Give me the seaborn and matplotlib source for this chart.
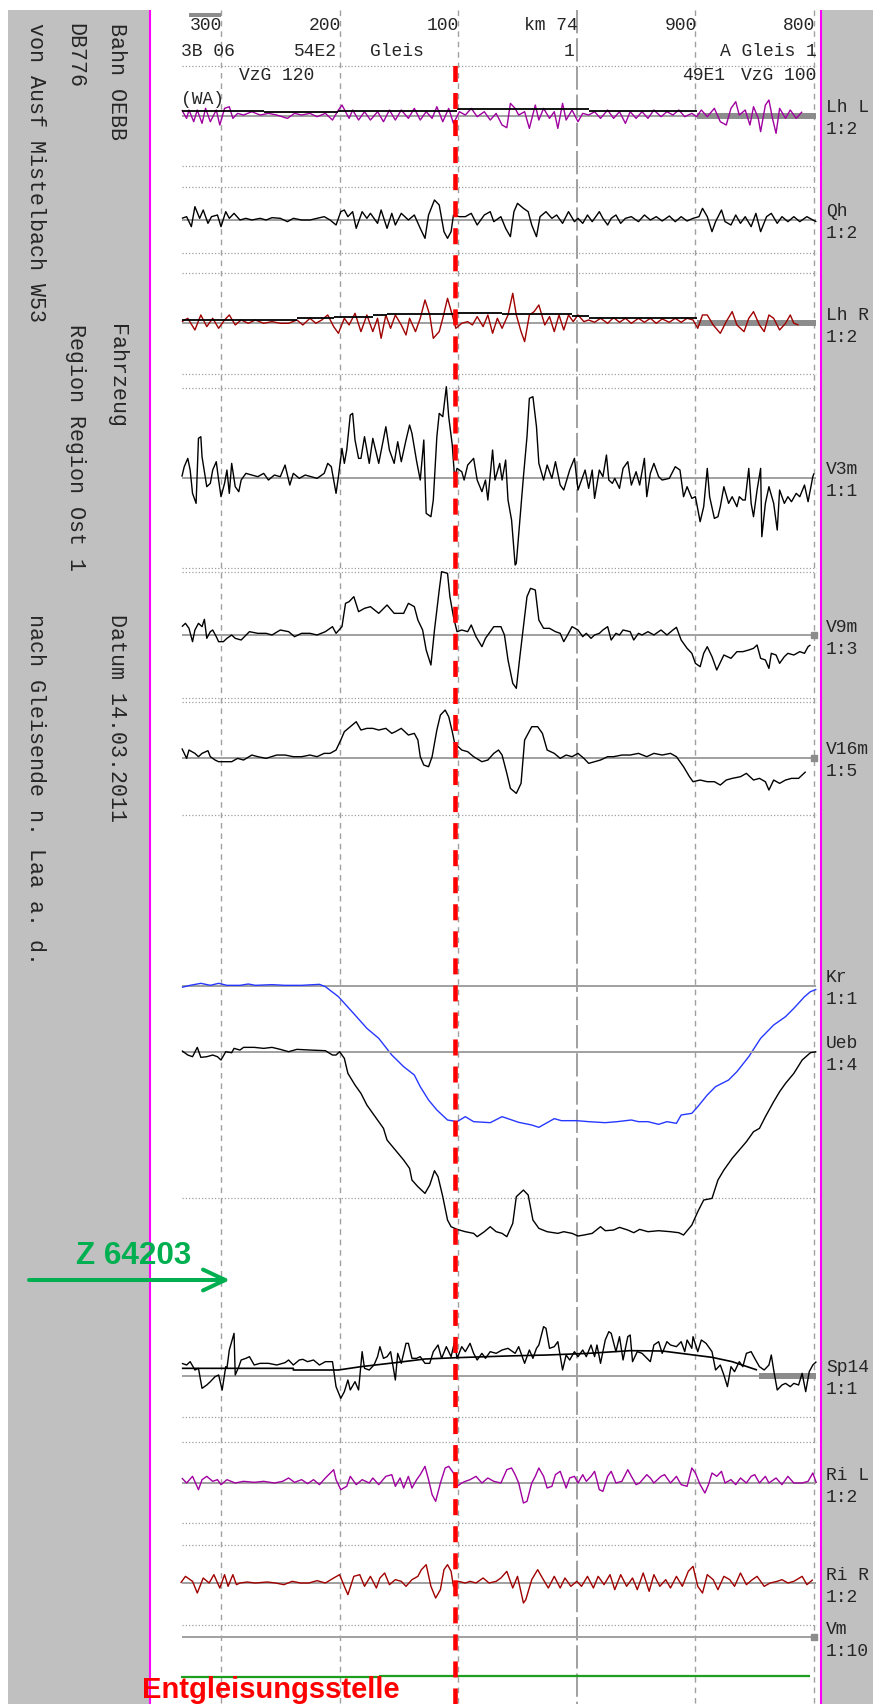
import matplotlib
matplotlib.use("Agg")
import matplotlib.pyplot as plt
import seaborn as sns
from matplotlib.patches import Rectangle, FancyArrowPatch
from matplotlib.lines import Line2D

sns.set_style("white")
plt.rcParams['font.family'] = ['Liberation Mono', 'DejaVu Sans Mono']
plt.rcParams['lines.solid_capstyle'] = 'butt'

# ---------------- data (x = metres from km 74.300, decreasing chainage to the right) -------------
km_ticks = [0, 100, 200, 300, 400, 500]
km_labels = ["300", "200", "100", "km 74", "900", "800"]
derail_pos = 197.3

lhl_x = [-33,-29,-27,-23,-20,-16,-13,-9,-4,-1,
         3,7,10,14,19,26,33,40,47,56,
         62,68,75,81,88,94,99,102,108,111,
         116,121,126,132,137,142,147,152,158,163,
         168,173,178,182,187,192,196,201,206,211,
         216,222,227,232,237,241,244,248,251,256,
         260,265,268,272,277,281,284,288,291,296,
         301,305,310,315,320,326,331,336,341,345,
         350,355,360,365,371,376,381,386,391,397,
         401,405,410,416,421,426,430,434,437,442,
         446,449,453,455,459,462,465,468,471,476,
         480,485,490]
lhl_y = [17,-8,17,-18,17,-23,22,-18,17,-28,
         22,27,-8,7,2,12,2,7,2,-8,
         7,2,7,-3,7,-13,17,32,-8,17,
         -13,12,-13,12,-18,17,-13,17,-8,22,
         -13,12,-8,27,-18,22,-23,12,2,22,
         -3,12,-13,7,-28,-36,37,22,2,12,
         -38,32,-13,22,-8,12,-38,37,-13,17,
         -18,7,2,12,-8,17,-8,12,-23,12,
         -8,12,-8,17,-3,12,2,17,-3,7,
         -3,17,-3,22,-18,-28,22,42,2,17,
         -28,27,-8,-48,32,47,-8,-53,22,-8,
         17,-8,12]
lhl_mean_start = [-33, 36, 99, 199, 310]
lhl_mean_end = [36, 99, 199, 310, 401]
lhl_mean_val = [15, 10, 15, 19, 15]

qh_x = [-33,-29,-25,-22,-18,-15,-11,-8,-3,0,
        4,7,11,16,21,26,33,38,43,50,
        56,61,68,75,81,87,92,97,101,104,
        107,111,114,119,123,126,132,135,140,144,
        147,152,158,163,168,172,175,180,184,188,
        191,194,196,201,206,211,216,222,227,230,
        236,240,244,247,250,255,259,262,266,269,
        274,279,283,288,293,298,301,305,309,313,
        319,322,326,329,333,337,341,346,352,357,
        362,367,372,378,383,388,393,398,403,406,
        410,414,417,422,425,430,434,438,442,447,
        451,455,460,464,469,473,478,483,488,494,
        499,502]
qh_y = [5,10,-20,40,5,30,-10,10,15,-20,
        25,5,20,0,5,0,5,0,7,5,
        -5,5,0,0,5,10,0,-15,25,30,
        10,25,-25,25,5,20,-10,30,-25,20,
        -15,20,0,15,-25,-55,15,60,45,-35,
        -55,-35,15,10,10,20,-15,15,25,-5,
        10,-25,-50,25,50,35,25,-15,-50,10,
        25,5,15,-10,25,-5,5,-10,15,-5,
        25,5,-15,5,15,-10,5,10,-5,15,
        0,10,-3,12,-5,10,-3,5,10,35,
        10,-35,-5,30,-5,-15,15,-10,10,-20,
        20,-35,10,20,-10,10,-5,10,-5,10,
        0,-5]

lhr_x = [-33,-28,-22,-17,-12,-7,-2,3,7,12,
         17,23,29,36,43,50,57,64,69,75,
         80,85,90,95,99,104,108,113,118,123,
         128,132,135,139,143,147,152,156,159,164,
         168,172,176,179,184,187,191,195,198,203,
         208,212,216,221,225,229,233,237,242,246,
         249,253,256,260,264,268,273,277,281,285,
         289,293,297,301,306,310,315,320,326,331,
         336,341,346,352,357,362,367,372,378,383,
         388,393,398,402,406,410,415,421,426,431,
         435,441,445,449,454,458,462,466,471,476,
         480,483,487]
lhr_y = [5,15,-20,25,-10,15,-15,10,25,-5,
         10,0,10,0,5,0,0,10,-5,15,
         0,10,25,-10,-30,15,-5,30,-25,25,
         -25,15,-45,25,-15,25,-5,-35,15,-25,
         15,70,25,-45,-25,15,75,25,-15,0,
         5,-5,20,-10,25,-30,15,-15,25,90,
         25,-25,-55,25,35,55,-5,20,-25,25,
         -20,25,5,25,5,10,3,15,0,17,
         3,15,0,15,3,15,0,13,3,15,
         3,15,10,-15,25,25,-5,-30,5,35,
         -5,-25,15,35,-5,-25,25,15,-20,0,
         25,0,-5]
lhr_mean_start = [-33, 64, 95, 128, 140, 199, 237, 296, 310]
lhr_mean_end = [64, 95, 128, 140, 199, 237, 296, 310, 401]
lhr_mean_val = [10, 15, 20, 25, 27, 32, 27, 23, 17]

v3_x = [-33,-31,-28,-26,-24,-21,-19,-17,-16,-12,
        -9,-7,-4,-2,0,3,5,7,9,12,
        15,17,21,26,31,36,40,45,50,54,
        58,61,66,71,76,81,87,90,93,97,
        99,102,104,106,109,111,113,116,118,121,
        125,128,133,139,142,146,149,152,156,159,
        161,165,168,171,173,177,179,182,184,187,
        190,192,195,197,199,203,205,208,213,216,
        220,223,225,229,231,235,237,240,242,245,
        248,249,252,255,258,260,263,266,268,272,
        275,279,282,286,289,294,298,301,305,307,
        310,313,315,319,322,325,327,330,332,336,
        339,343,346,350,353,357,359,362,365,369,
        372,378,383,387,390,393,397,400,404,407,
        410,412,416,419,421,424,428,431,435,437,
        440,442,445,447,449,452,455,456,459,462,
        466,469,471,475,478,481,485,488,492,495,
        499,500]
v3_y = [3,33,58,23,-47,-77,118,123,63,-27,
        -17,23,48,-7,-57,-17,23,-47,43,-27,
        -42,-7,13,8,3,13,-7,8,3,38,
        -22,13,-2,8,3,-2,13,43,33,-47,
        3,88,43,83,188,193,113,58,58,123,
        43,118,43,153,83,43,108,48,113,158,
        133,48,-7,113,-107,-117,-67,123,193,183,
        273,183,98,-2,28,18,-7,38,58,-7,
        -42,-7,-67,83,-7,43,-7,53,-67,-127,
        -262,-257,-127,3,123,238,243,153,43,-7,
        38,-2,48,-22,-37,23,58,-37,3,23,
        -32,23,-62,23,3,68,-7,-17,-2,-32,
        28,48,-22,18,-22,58,-57,13,43,3,
        -7,-2,33,23,-57,-27,-62,-57,-132,-87,
        28,-57,-122,-117,-87,-27,-77,-57,-87,-57,
        -67,-67,28,-77,-117,-37,28,-177,-77,-27,
        -77,-157,-37,-77,-57,-72,-47,-57,-22,-72,
        3,13]

v9_x = [-33,-30,-27,-24,-22,-19,-16,-14,-12,-9,
        -7,-4,-2,2,5,9,12,17,24,31,
        38,43,50,57,62,68,75,81,88,94,
        97,102,105,108,112,116,121,126,133,140,
        146,154,158,163,166,170,173,177,180,184,
        186,191,193,196,199,203,208,211,215,220,
        223,230,236,239,242,246,249,252,255,258,
        261,265,268,272,277,282,286,289,293,296,
        301,305,308,312,315,319,322,326,329,333,
        336,339,345,348,352,355,360,365,371,376,
        381,384,388,393,397,400,404,407,410,414,
        418,422,424,430,435,440,445,449,452,455,
        459,462,464,468,471,475,478,483,488,492,
        495,497]
v9_y = [25,35,20,-20,15,35,25,47,-10,10,
        15,-5,-20,-20,-10,0,-10,-15,10,5,
        5,0,15,10,-5,5,5,0,10,25,
        5,25,95,100,115,70,80,85,65,90,
        65,65,95,85,45,15,-45,-90,15,135,
        190,185,115,55,10,15,10,30,-5,-35,
        -10,25,25,0,-75,-145,-160,-65,25,115,
        140,135,45,20,20,10,5,-20,5,25,
        15,-5,5,-10,0,5,15,25,-15,5,
        0,15,10,-15,5,0,10,0,15,0,
        15,23,-15,-40,-55,-85,-95,-55,-35,-65,
        -105,-75,-60,-70,-50,-50,-45,-40,-30,-70,
        -75,-100,-55,-60,-85,-65,-55,-60,-50,-55,
        -35,-30]

v16_x = [-33,-29,-27,-22,-19,-16,-11,-9,-5,-2,
         4,9,14,19,26,31,38,47,54,61,
         68,75,81,87,92,97,101,104,109,114,
         118,123,128,133,139,144,147,152,158,163,
         166,168,171,175,178,182,185,189,192,195,
         197,203,208,213,220,225,230,234,237,241,
         244,249,253,256,262,267,271,275,281,286,
         291,296,301,306,310,315,320,326,331,338,
         345,352,359,365,372,379,384,390,395,398,
         404,410,416,421,426,431,438,443,449,454,
         459,462,466,471,476,481,487,490,493]
v16_y = [28,-2,23,13,3,13,21,3,-7,-12,
         -12,-12,-2,-7,8,3,-2,8,8,3,
         3,8,3,13,13,23,53,78,93,108,
         83,88,88,83,88,73,78,88,68,73,
         53,3,-22,-27,3,83,128,143,123,78,
         43,23,18,3,-12,-7,13,23,8,-47,
         -92,-107,-77,53,93,93,73,23,13,-2,
         8,3,13,-2,-17,-12,-7,3,3,8,
         8,13,3,13,8,13,3,-27,-57,-72,
         -67,-72,-72,-82,-67,-62,-57,-47,-67,-62,
         -72,-97,-67,-77,-67,-62,-62,-52,-42]

kr_x = [-33,-26,-17,-9,-2,5,16,23,29,43,
        54,68,83,88,99,113,123,133,144,154,
        163,168,175,182,191,199,206,213,227,237,
        251,262,268,274,281,287,300,310,324,334,
        346,352,360,369,376,384,388,397,402,410,
        417,428,435,445,455,466,476,483,492,497,
        502]
kr_y = [-4,2,8,2,8,2,2,6,2,4,
        2,2,5,-2,-32,-87,-127,-157,-207,-242,
        -267,-302,-342,-372,-402,-407,-392,-407,-410,-392,
        -409,-417,-424,-412,-398,-404,-404,-407,-410,-407,
        -402,-407,-407,-415,-407,-412,-387,-382,-362,-327,
        -302,-282,-257,-212,-157,-117,-92,-67,-32,-17,
        -10]

ueb_x = [-33,-28,-24,-20,-17,-12,-7,-3,0,4,
         9,11,16,19,28,36,43,50,57,64,
         75,88,94,97,100,104,107,113,118,123,
         130,137,140,147,154,159,161,166,172,176,
         180,183,187,191,194,199,206,213,216,222,
         227,232,237,241,246,249,255,259,263,268,
         275,284,289,296,301,306,313,320,324,331,
         336,343,348,353,360,369,379,386,390,397,
         402,407,414,419,424,431,437,443,449,454,
         459,466,471,476,483,490,497,502]
ueb_y = [3,-10,-15,13,-17,-15,-10,-15,-25,0,
         -3,10,5,13,13,10,13,7,0,7,
         5,3,-10,-10,0,-20,-65,-100,-125,-160,
         -195,-230,-265,-295,-325,-350,-385,-405,-425,-400,
         -357,-375,-435,-505,-525,-533,-540,-545,-555,-540,
         -525,-540,-545,-555,-515,-435,-415,-430,-505,-530,
         -540,-545,-540,-545,-553,-550,-545,-525,-537,-535,
         -527,-535,-543,-533,-540,-537,-540,-543,-550,-520,
         -480,-445,-440,-385,-355,-320,-295,-270,-240,-230,
         -195,-150,-120,-95,-65,-25,-3,0]

sp_x = [-33,-29,-26,-22,-19,-16,-12,-9,-5,-2,
        1,4,5,7,11,12,15,17,21,24,
        28,33,40,47,54,57,61,66,69,73,
        78,83,88,94,97,101,104,107,109,113,
        116,119,121,125,129,132,134,137,140,143,
        147,149,152,156,158,161,165,168,172,176,
        179,183,186,190,194,197,199,203,206,210,
        213,216,220,223,227,232,237,242,248,251,
        256,260,263,266,268,272,274,277,281,284,
        288,291,294,298,301,305,308,312,315,317,
        320,324,327,329,333,336,339,343,345,347,
        351,355,362,365,369,372,376,379,384,388,
        391,393,397,398,402,405,409,414,417,421,
        424,427,430,433,437,440,443,447,450,454,
        458,462,464,466,469,473,476,480,483,487,
        490,493,496,499,502]
sp_y = [38,33,43,18,23,-37,-27,-17,-2,3,
        -42,28,23,78,128,3,28,48,53,58,
        33,38,38,33,40,48,33,48,50,43,
        48,33,43,43,-32,-67,-47,-12,-42,-17,
        -42,73,23,18,33,58,88,53,58,73,
        -12,68,38,98,98,53,53,58,38,38,
        73,93,53,88,58,103,53,88,73,98,
        68,48,68,53,73,68,78,83,68,88,
        38,78,53,83,93,148,143,83,88,103,
        18,63,48,73,58,78,58,93,58,93,
        38,108,133,128,73,118,48,118,123,43,
        73,68,43,93,103,68,103,93,88,103,
        73,108,83,118,73,108,98,73,18,33,
        3,-32,28,13,43,28,68,73,53,28,
        18,33,63,18,-42,-27,-22,-32,-22,-27,
        8,-47,13,33,43]
sp_mean_x = [-33, 61, 61, 99, 118, 147, 172, 199, 241, 275, 310, 345, 372, 414, 431, 452]
sp_mean_y = [23, 23, 18, 18, 28, 40, 51, 55, 60, 63, 68, 76, 75, 56, 43, 18]

ril_x = [-33,-29,-24,-19,-16,-12,-7,-3,0,5,
         12,19,28,36,45,52,57,62,68,73,
         78,83,88,95,97,101,106,109,114,119,
         125,128,133,139,144,147,151,154,158,161,
         165,168,172,175,178,181,185,189,192,196,
         199,203,206,210,215,220,225,230,236,241,
         245,248,251,255,258,262,265,268,272,275,
         279,282,286,291,294,298,301,305,308,312,
         315,319,322,326,329,333,338,343,346,350,
         353,359,362,365,371,374,379,384,388,393,
         397,400,404,408,411,414,418,422,425,430,
         434,438,443,447,450,454,459,462,468,473,
         478,483,490,495,499,502]
ril_y = [15,0,20,-20,10,20,5,10,-5,10,
         0,5,2,5,0,5,15,2,10,-2,
         10,-5,15,40,10,-20,-10,20,-5,10,
         0,15,-5,20,25,-10,15,-15,20,-15,
         10,25,50,10,-35,-55,0,45,50,30,
         -10,0,5,10,20,0,15,5,0,40,
         45,25,0,-60,-55,0,20,45,20,-15,
         -10,25,35,-15,15,20,0,25,5,20,
         35,-20,-25,20,35,0,5,40,20,-5,
         0,25,15,0,20,25,0,20,-5,-10,
         45,30,-5,-30,-5,30,20,35,0,10,
         -5,15,0,20,25,0,20,0,15,-5,
         20,0,0,5,30,0]

rir_x = [-34,-30,-24,-20,-15,-10,-6,-1,3,6,
         10,13,16,22,29,39,46,53,60,67,
         74,81,88,95,100,104,107,112,117,121,
         126,131,134,138,142,147,152,156,161,166,
         169,173,177,181,185,188,191,194,196,200,
         206,210,215,221,226,232,236,241,246,250,
         255,257,262,267,271,276,281,286,290,295,
         300,304,309,314,318,323,328,332,337,342,
         347,351,356,361,365,370,375,379,384,389,
         394,398,402,406,410,415,419,424,429,433,
         438,443,448,452,458,463,469,473,478,483,
         490,494,499]
rir_y = [0,20,5,-30,15,0,25,-15,25,-10,
         25,-5,0,3,0,3,0,-5,5,0,
         0,7,0,15,25,-10,-35,20,25,-10,
         20,-15,15,30,-5,10,5,-10,10,20,
         40,55,-10,-45,-20,40,55,35,-10,5,
         0,5,0,15,0,5,15,35,-15,20,
         -60,-50,10,40,15,-15,20,-15,15,-10,
         5,-10,20,-15,20,-5,25,-20,25,-10,
         15,-20,30,-25,25,-10,10,-15,20,-10,
         35,50,-10,-30,25,10,-20,20,10,-10,
         30,-5,10,20,-10,0,5,10,0,5,
         20,-5,10]

vm_start = [-34, 133]
vm_end = [133, 497]
vm_val = [-121, -118]

chan_names = ["Lh L", "Qh", "Lh R", "V3m", "V9m", "V16m", "Kr", "Ueb", "Sp14", "Ri L", "Ri R", "Vm"]
chan_scales = ["1:2", "1:2", "1:2", "1:1", "1:3", "1:5", "1:1", "1:4", "1:1", "1:2", "1:2", "1:10"]

# ---------------- layout (pixels) ----------------
W, H = 873, 1704
PLOT_L, PLOT_R = 150, 821
X0_PX, PX_PER_M = 221, 1.186
XLIM = ((PLOT_L - X0_PX) / PX_PER_M, (PLOT_R - X0_PX) / PX_PER_M)
BX0, BX1 = -33, 502
base_px = [115.7, 220, 323.3, 477.7, 635, 757.7, 986, 1051.7, 1376, 1483, 1583, 1637]
half_px = [25, 25, 35, 100, 70, 55, 150, 195, 60, 25, 25, 50]
sep_px = [166, 187, 253, 273, 374, 388, 568, 572, 698, 702, 815, 1198, 1417, 1442, 1523, 1545, 1625]

PURPLE, DRED, BLUE = '#A000A0', '#A00000', '#2638FF'
BASEC, BARC, PANEL = '#A0A0A0', '#8C8C8C', '#C0C0C0'
GREEN, RED = '#00B050', '#FF0000'


def fx(p):
    return p / W


def fy(p):
    return 1 - p / H


fig = plt.figure(figsize=(W / 100, H / 100), dpi=100)
fig.patch.set_facecolor('white')

# gray side panels
fig.add_artist(Rectangle((fx(8), 0), fx(PLOT_L) - fx(8), fy(10), transform=fig.transFigure,
                         facecolor=PANEL, edgecolor='none', zorder=-5))
fig.add_artist(Rectangle((fx(PLOT_R), 0), 1 - fx(PLOT_R), fy(10), transform=fig.transFigure,
                         facecolor=PANEL, edgecolor='none', zorder=-5))

# background axes in pixel-y
ax_bg = fig.add_axes([fx(PLOT_L), 0, fx(PLOT_R) - fx(PLOT_L), 1])
ax_bg.set_xlim(XLIM)
ax_bg.set_ylim(H, 0)
ax_bg.axis('off')
for t in km_ticks:
    if t == 300:
        ax_bg.plot([t, t], [10, H], color=BASEC, lw=1.4, linestyle=(0, (12, 2.5)))
    else:
        ax_bg.plot([t, t], [10, H], color=BASEC, lw=1.0, linestyle=(0, (4, 3.5)))
ax_bg.hlines(sep_px, BX0, BX1, colors=BASEC, linestyles=[(0, (1, 1.6))], lw=0.9)
ax_bg.hlines([66], BX0, BX1, colors=BASEC, linestyles=[(0, (1, 1.6))], lw=0.9)
ax_bg.hlines([15], -27, 0, colors=BARC, lw=2.9)

hdr_fs = 13
for t, lab in zip(km_ticks, km_labels):
    ax_bg.text(t + 1, 26, lab, ha='right', va='center', fontsize=hdr_fs)
for txt, xp, ha in [("3B 06", -34, 'left'), ("54E2", 98, 'right'), ("Gleis", 126, 'left'),
                    ("1", 298, 'right'), ("A Gleis 1", 502, 'right')]:
    ax_bg.text(xp, 52, txt, ha=ha, va='center', fontsize=hdr_fs)
for txt, xp, ha in [("VzG 120", 15, 'left'), ("49E1", 389, 'left'), ("VzG 100", 502, 'right')]:
    ax_bg.text(xp, 76, txt, ha=ha, va='center', fontsize=hdr_fs)
ax_bg.text(-34, 99, "(WA)", ha='left', va='center', fontsize=hdr_fs)


def channel(i):
    b, h = base_px[i], half_px[i]
    ax = fig.add_axes([fx(PLOT_L), fy(b + h), fx(PLOT_R) - fx(PLOT_L), 2 * h / H])
    ax.hlines(0, BX0, BX1, colors=BASEC, lw=1.4, zorder=1)
    return ax


def finish(ax, i):
    h = half_px[i]
    ax.set_xlim(XLIM)
    ax.set_ylim(-3 * h, 3 * h)
    ax.axis('off')
    ax.patch.set_alpha(0)


def trace(ax, x, y, color, lw=1.0):
    sns.lineplot(x=x, y=y, ax=ax, color=color, lw=lw, estimator=None, sort=False, legend=False, zorder=3)


traces = [(lhl_x, lhl_y, PURPLE), (qh_x, qh_y, 'black'), (lhr_x, lhr_y, DRED),
          (v3_x, v3_y, 'black'), (v9_x, v9_y, 'black'), (v16_x, v16_y, 'black'),
          (kr_x, kr_y, BLUE), (ueb_x, ueb_y, 'black'), (sp_x, sp_y, 'black'),
          (ril_x, ril_y, PURPLE), (rir_x, rir_y, DRED)]

axes = []
for i in range(12):
    ax = channel(i)
    axes.append(ax)
    if i < 11:
        x, y, c = traces[i]
        assert len(x) == len(y), (chan_names[i], len(x), len(y))
        trace(ax, x, y, c)

# extra overlays per channel
axes[0].hlines(lhl_mean_val, lhl_mean_start, lhl_mean_end, colors='black', lw=1.3, zorder=4)
axes[0].hlines(0, 401, BX1, colors=BARC, lw=4.3, zorder=2)
axes[2].hlines(lhr_mean_val, lhr_mean_start, lhr_mean_end, colors='black', lw=1.3, zorder=4)
axes[2].hlines(0, 401, BX1, colors=BARC, lw=4.3, zorder=2)
axes[8].plot(sp_mean_x, sp_mean_y, color='black', lw=1.2, zorder=4)
axes[8].hlines(0, 454, BX1, colors=BARC, lw=4.3, zorder=2)
for i in (4, 5, 11):
    axes[i].plot([500], [0], marker='s', ms=4, color=BARC, zorder=4)
axes[11].hlines(vm_val, vm_start, vm_end, colors='#1E9E1E', lw=1.6, zorder=3)
for i in range(12):
    finish(axes[i], i)

# right labels
for name, sc, b in zip(chan_names, chan_scales, base_px):
    fig.text(fx(826), fy(b - 8), name, ha='left', va='center', fontsize=13)
    fig.text(fx(826), fy(b + 14), sc, ha='left', va='center', fontsize=13)

# left sidebar
side_fs = 15.6
for txt, xp, yp in [("Bahn OEBB", 116, 23), ("Fahrzeug", 116, 324), ("Datum 14.03.2011", 116, 614),
                    ("DB776", 75, 23), ("Region Region Ost 1", 75, 324),
                    ("von Ausf Mistelbach W53", 35, 23), ("nach Gleisende n. Laa a. d.", 35, 614)]:
    fig.text(fx(xp), fy(yp), txt, rotation=-90, ha='center', va='top', fontsize=side_fs)

# magenta frame lines
for xp in (PLOT_L, PLOT_R):
    fig.add_artist(Line2D([fx(xp), fx(xp)], [0, fy(10)], transform=fig.transFigure,
                          color='#FF00FF', lw=1.5, zorder=10))

# top overlay: derailment marker
ax_top = fig.add_axes([fx(PLOT_L), 0, fx(PLOT_R) - fx(PLOT_L), 1])
ax_top.set_xlim(XLIM)
ax_top.set_ylim(H, 0)
ax_top.axis('off')
ax_top.patch.set_alpha(0)
ax_top.axvline(derail_pos, ymin=0, ymax=1 - 60 / H, color=RED, lw=3.3, linestyle=(0, (3.5, 2.4)))

fig.text(fx(142), fy(1698), "Entgleisungsstelle", fontsize=21, fontweight='bold',
         family=['Liberation Sans', 'DejaVu Sans'], color=RED, ha='left', va='baseline', zorder=20)
fig.text(fx(76), fy(1264), "Z 64203", fontsize=22.7, fontweight='bold',
         family=['Liberation Sans', 'DejaVu Sans'], color=GREEN, ha='left', va='baseline', zorder=20)
fig.add_artist(FancyArrowPatch((fx(29), fy(1280)), (fx(230), fy(1280)), transform=fig.transFigure,
                               arrowstyle='->,head_length=1.6,head_width=0.75', mutation_scale=10,
                               lw=2.9, color=GREEN, shrinkA=0, shrinkB=0, zorder=20))

fig.savefig('out.png', dpi=100)
